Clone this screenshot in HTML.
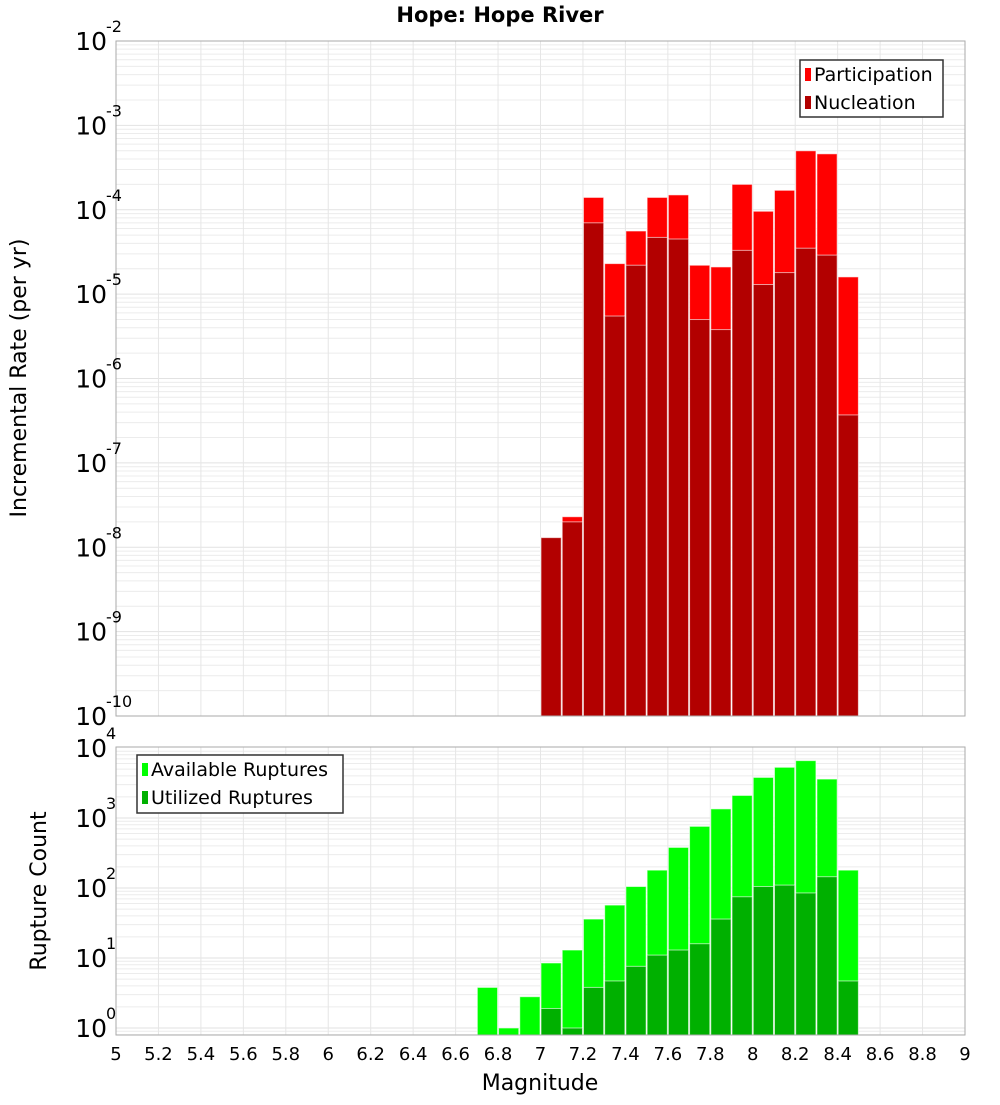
<!DOCTYPE html>
<html><head><meta charset="utf-8"><style>
body{margin:0;background:#fff;font-family:"Liberation Sans","DejaVu Sans",sans-serif}
</style></head><body>
<svg id="c" width="1000" height="1100" xmlns="http://www.w3.org/2000/svg" font-family="DejaVu Sans, Liberation Sans, sans-serif"></svg>
<script>
const mags=[7.05,7.15,7.25,7.35,7.45,7.55,7.65,7.75,7.85,7.95,8.05,8.15,8.25,8.35,8.45];
const participation=[1.3e-8,2.3e-8,1.4e-4,2.3e-5,5.6e-5,1.4e-4,1.5e-4,2.2e-5,2.1e-5,2.0e-4,9.6e-5,1.7e-4,5.0e-4,4.6e-4,1.6e-5];
const nucleation=[1.3e-8,2.0e-8,7.0e-5,5.5e-6,2.2e-5,4.7e-5,4.5e-5,5.0e-6,3.8e-6,3.3e-5,1.3e-5,1.8e-5,3.5e-5,2.9e-5,3.7e-7];
const magsB=[6.75,6.85,6.95,7.05,7.15,7.25,7.35,7.45,7.55,7.65,7.75,7.85,7.95,8.05,8.15,8.25,8.35,8.45];
const available=[3.8,1,2.8,8.5,13,36,57,105,180,380,760,1350,2100,3800,5300,6600,3600,180];
const utilized=[0,0,0,1.9,1,3.8,4.7,7.6,11,13,16,36,75,105,110,85,145,4.7];
const xTicks=["5","5.2","5.4","5.6","5.8","6","6.2","6.4","6.6","6.8","7","7.2","7.4","7.6","7.8","8","8.2","8.4","8.6","8.8","9"];

const svg=document.getElementById('c');
const NS='http://www.w3.org/2000/svg';
function el(t,a,p){const e=document.createElementNS(NS,t);for(const k in a)e.setAttribute(k,a[k]);(p||svg).appendChild(e);return e;}
const L=116,R=965;
const x=m=>L+(m-5)/4*(R-L);
const T1=41,B1=716, yTop=v=>T1+(-2-Math.log10(v))*(B1-T1)/8;
const T2=747,B2=1035, yBot=v=>1028-Math.log10(v)*70;

// title
let t=el('text',{x:500,y:22,'text-anchor':'middle','font-size':21,'font-weight':'bold'});t.textContent='Hope: Hope River';


function panel(top,bot,yfn,minE,maxE,name){
  const g=el('g',{});
  
  for(let e=minE;e<=maxE;e++){for(let k=1;k<10;k++){const v=k*Math.pow(10,e);const yy=yfn(v);if(yy<top-0.5||yy>bot+0.5)continue;
    el('line',{x1:L,x2:R,y1:yy,y2:yy,stroke:k==1?'#e2e2e2':'#ececec','stroke-width':1},g);}}
  for(let i=0;i<xTicks.length;i++){const xx=x(5+i*0.2);el('line',{x1:xx,x2:xx,y1:top,y2:bot,stroke:'#e6e6e6'},g);}
}
panel(T1,B1,yTop,-10,-3,'top');
panel(T2,B2,yBot,-1,3,'bottom');

const bw=(R-L)/40;
function bar(m,v,fn,base,col,name){
  const yy=fn(v);
  const r=el('rect',{x:x(m)-bw/2+0.5,y:yy,width:bw-1,height:base-yy,fill:col,stroke:'#fff','stroke-opacity':0.6,'stroke-width':1});
  
}
mags.forEach((m,i)=>{bar(m,participation[i],yTop,B1,'#ff0000','participation-bar');});
mags.forEach((m,i)=>{bar(m,nucleation[i],yTop,B1,'#b20000','nucleation-bar');});
magsB.forEach((m,i)=>{if(available[i]>0)bar(m,available[i],yBot,B2,'#00ff00','available-bar');});
magsB.forEach((m,i)=>{if(utilized[i]>0)bar(m,utilized[i],yBot,B2,'#00b000','utilized-bar');});

el('rect',{x:L,y:T1,width:R-L,height:B1-T1,fill:'none',stroke:'#aaa'});
el('rect',{x:L,y:T2,width:R-L,height:B2-T2,fill:'none',stroke:'#aaa'});

// y tick labels
function ylab(e,yy,name){
  const tx=el('text',{x:107,y:yy+9,'text-anchor':'end','font-size':25});
  
  tx.textContent='10';
  const s=el('text',{x:106,y:yy-9,'font-size':16});s.textContent=String(e);
  
}
for(let e=-10;e<=-2;e++)ylab(e,yTop(Math.pow(10,e)),'top-y-tick');
for(let e=0;e<=4;e++)ylab(e,yBot(Math.pow(10,e)),'bottom-y-tick');
// fix -10 exponent overlap position similar to reference
xTicks.forEach((s,i)=>{const tx=el('text',{x:x(5+i*0.2),y:1060,'text-anchor':'middle','font-size':18});tx.textContent=s;
  });

let a=el('text',{x:540,y:1090,'text-anchor':'middle','font-size':22});a.textContent='Magnitude';

a=el('text',{x:0,y:0,'text-anchor':'middle','font-size':22,transform:'translate(26,378) rotate(-90)'});a.textContent='Incremental Rate (per yr)';

a=el('text',{x:0,y:0,'text-anchor':'middle','font-size':22,transform:'translate(46,891) rotate(-90)'});a.textContent='Rupture Count';


function legend(x0,y0,w,h,items,name){
  const g=el('g',{});
  el('rect',{x:x0,y:y0,width:w,height:h,fill:'#fff',stroke:'#333','stroke-width':1.5},g);
  items.forEach((it,i)=>{const cy=y0+14+i*28;
    el('rect',{x:x0+5,y:cy-6,width:6,height:13,fill:it[1]},g);
    const tx=el('text',{x:x0+14,y:cy+7,'font-size':19},g);tx.textContent=it[0];
    });
}
legend(800,60,143,57,[['Participation','#ff0000'],['Nucleation','#b20000']],'top-legend');
legend(137,755,206,58,[['Available Ruptures','#00ff00'],['Utilized Ruptures','#00b000']],'bottom-legend');
</script>
</body></html>
